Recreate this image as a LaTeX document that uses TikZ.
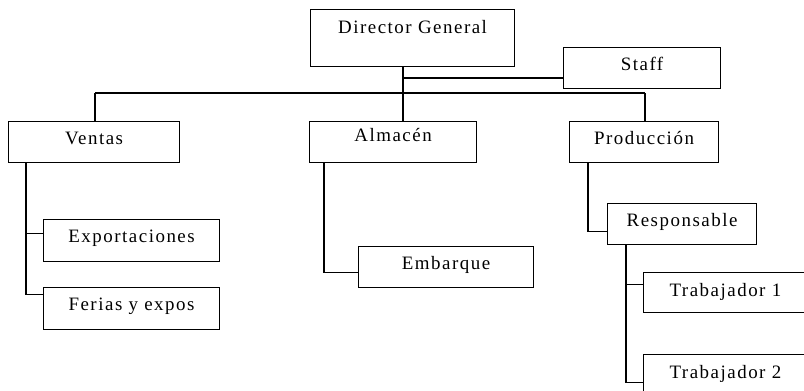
\documentclass[tikz,border=0pt]{standalone}
\usepackage{fontspec}
\setmainfont{Liberation Serif}[LetterSpace=8]
\begin{document}
\begin{tikzpicture}[x=1bp,y=-1bp,
  box/.style={draw=black,line width=1.1bp,rectangle,inner sep=0pt,anchor=north west,
    text height=23bp,text depth=18bp,
    font=\fontsize{19}{22}\selectfont},
  wire/.style={draw=black,line width=1.1bp}]
\useasboundingbox (0,0) rectangle (804,390);
\clip (0,0) rectangle (804,390);
% boxes
\node[box,minimum width=204bp,text height=24bp,text depth=33bp] (dg) at (310,9) {Director General};
\node[box,minimum width=157bp] (staff) at (563,47) {Staff};
\node[box,minimum width=171bp] (ventas) at (8,121) {Ventas};
\node[box,minimum width=167bp,text height=20bp,text depth=21bp] (almacen) at (309,121) {Almacén};
\node[box,minimum width=149bp] (prod) at (569,121) {Producción};
\node[box,minimum width=176bp,text depth=19bp] (export) at (43,219) {Exportaciones};
\node[box,minimum width=176bp,text depth=19bp] (ferias) at (43,287) {Ferias y expos};
\node[box,minimum width=175bp] (embarque) at (358,246) {Embarque};
\node[box,minimum width=149bp] (resp) at (607,203) {Responsable};
\node[box,minimum width=177bp,text width=177bp,align=left,text height=24bp,text depth=16bp] (trab1) at (643,272) {\hspace*{26bp}Trabajador 1};
\node[box,minimum width=177bp,text width=177bp,align=left,text height=24bp,text depth=18bp] (trab2) at (643,354) {\hspace*{26bp}Trabajador 2};
% coordinates
\coordinate (bus) at (403,93);
\coordinate (busL) at (95,93);
\coordinate (busR) at (645,93);
\coordinate (vline) at (26,162);
\coordinate (aline) at (324,162);
\coordinate (pline) at (588,162);
\coordinate (rline) at (626,244);
% connectors
\draw[wire] (dg.south -| bus) -- (almacen.north -| bus);
\draw[wire] (403,78) coordinate (st) -- (st -| staff.west);
\draw[wire] (busL) -- (busR);
\draw[wire] (busL) -- (busL |- ventas.north);
\draw[wire] (busR) -- (busR |- prod.north);
\draw[wire] (vline) |- ([yshift=7bp]export.west);
\draw[wire] (vline) |- ([yshift=14bp]ferias.west);
\draw[wire] (aline) |- ([yshift=-5bp]embarque.west);
\draw[wire] (pline) |- ([yshift=-7.5bp]resp.west);
\draw[wire] (rline) |- ([yshift=8bp]trab1.west);
\draw[wire] (rline) |- ([yshift=-7bp]trab2.west);
\end{tikzpicture}
\end{document}
